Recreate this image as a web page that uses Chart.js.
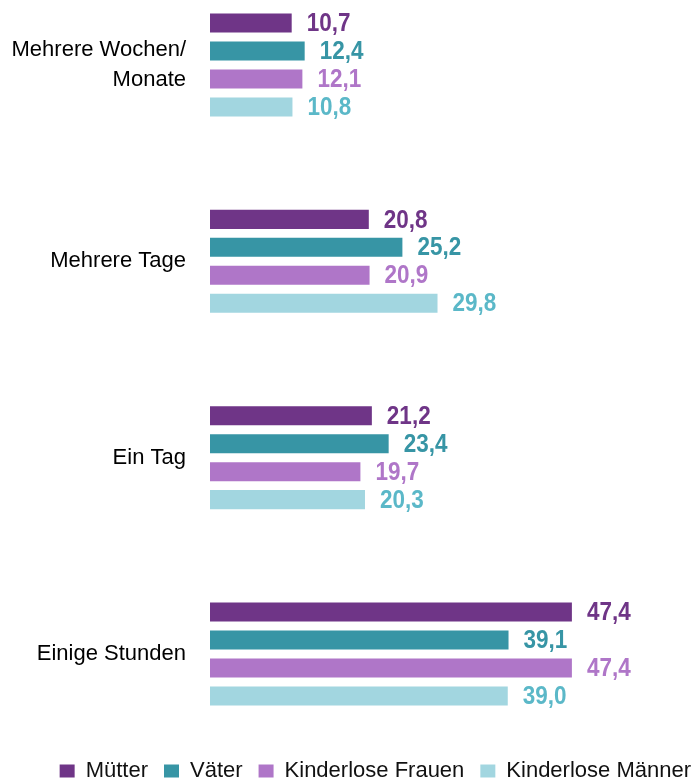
<!DOCTYPE html>
<html>
<head>
<meta charset="utf-8">
<script src="https://cdn.jsdelivr.net/npm/chart.js@4/dist/chart.umd.min.js"></script>
<style>
  html, body { margin: 0; padding: 0; background: #ffffff; }
  #wrap { width: 691px; height: 783px; position: relative; }
</style>
</head>
<body>
<div id="wrap"><canvas id="c"></canvas></div>
<script>
const categories = [['Mehrere Wochen/', 'Monate'], 'Mehrere Tage', 'Ein Tag', 'Einige Stunden'];
const seriesNames = ['Mütter', 'Väter', 'Kinderlose Frauen', 'Kinderlose Männer'];
const muetter = [10.7, 20.8, 21.2, 47.4];
const vaeter = [12.4, 25.2, 23.4, 39.1];
const frauen = [12.1, 20.9, 19.7, 47.4];
const maenner = [10.8, 29.8, 20.3, 39.0];

const barColors = ['#6F3587', '#3795A5', '#AF76C8', '#A2D6E0'];
const labelColors = ['#6F3587', '#3795A5', '#AF76C8', '#5BB8C8'];
const seriesValues = [muetter, vaeter, frauen, maenner];

const valueLabels = {
  id: 'valueLabels',
  afterDatasetsDraw(chart) {
    const ctx = chart.ctx;
    chart.data.datasets.forEach((ds, i) => {
      const meta = chart.getDatasetMeta(i);
      meta.data.forEach((bar, j) => {
        const v = ds.data[j];
        const txt = v.toFixed(1).replace('.', ',');
        ctx.save();
        ctx.translate(bar.x + 15, bar.y + 1);
        ctx.scale(1, 1.15);
        ctx.font = 'bold 22.5px "Liberation Sans", Arial, sans-serif';
        ctx.fillStyle = labelColors[i];
        ctx.textAlign = 'left';
        ctx.textBaseline = 'middle';
        ctx.fillText(txt, 0, 0);
        ctx.restore();
      });
    });
  }
};

new Chart(document.getElementById('c'), {
  type: 'bar',
  data: {
    labels: categories,
    datasets: seriesValues.map((vals, i) => ({
      label: seriesNames[i],
      data: vals,
      backgroundColor: barColors[i],
      borderWidth: 0,
      categoryPercentage: 0.57,
      barPercentage: 0.68,
      clip: false
    }))
  },
  options: {
    indexAxis: 'y',
    responsive: true,
    maintainAspectRatio: false,
    animation: false,
    layout: { padding: { top: 65, bottom: -9, left: 0, right: -16 } },
    scales: {
      x: {
        min: 0,
        max: 63,
        display: true,
        grid: { display: false, drawTicks: false },
        border: { display: false },
        ticks: { display: false },
        afterFit(scale) { scale.height = 90; }
      },
      y: {
        offset: false,
        grid: { display: false, drawTicks: false },
        border: { display: false },
        ticks: {
          padding: 24,
          color: '#000000',
          font: { family: '"Liberation Sans", Arial, sans-serif', size: 22, lineHeight: 1.36 }
        },
        afterFit(scale) { scale.width = 210; }
      }
    },
    plugins: {
      tooltip: { enabled: false },
      legend: {
        position: 'bottom',
        align: 'end',
        labels: {
          boxWidth: 15,
          boxHeight: 13,
          padding: 16,
          color: '#111111',
          font: { family: '"Liberation Sans", Arial, sans-serif', size: 22 }
        }
      }
    }
  },
  plugins: [valueLabels]
});
</script>
</body>
</html>
